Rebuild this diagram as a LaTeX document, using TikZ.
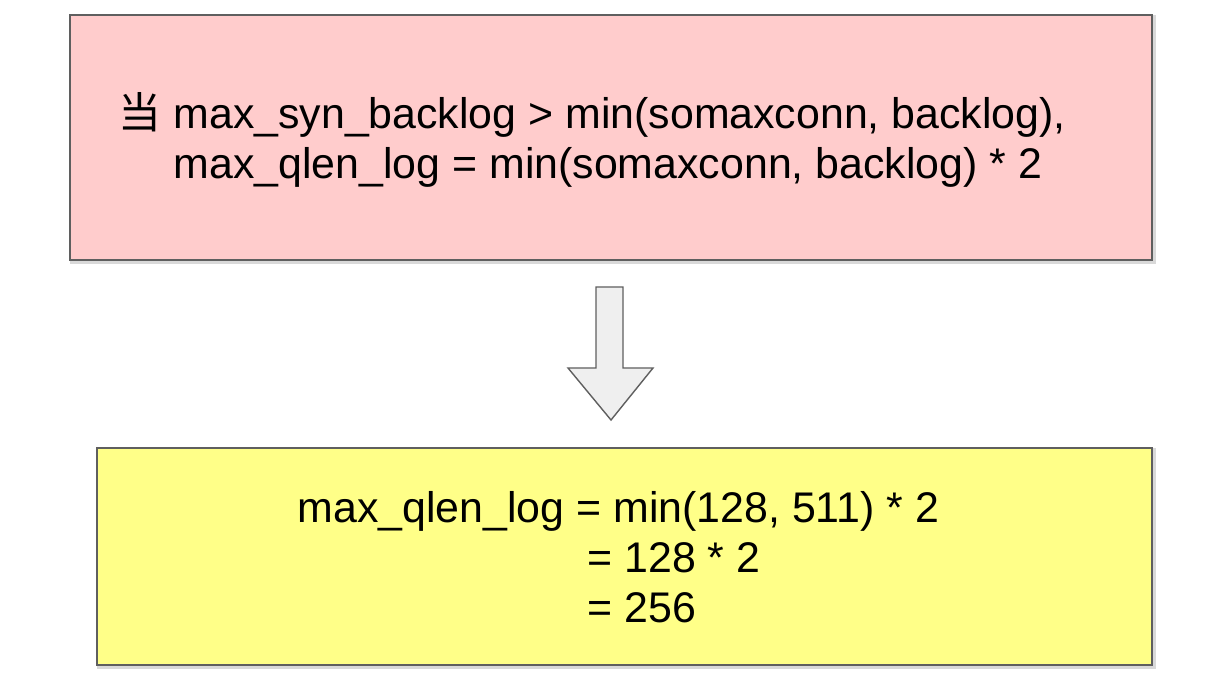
\documentclass[tikz,border=0pt]{standalone}
\usepackage{fontspec}
\setmainfont{Liberation Sans}
\newfontfamily\cjkfont{Noto Sans CJK SC}
\usetikzlibrary{positioning}

\begin{document}
\begin{tikzpicture}[x=0.02cm, y=-0.02cm, thick, every node/.style={font=\fontsize{24.4}{28.45}\selectfont, inner sep=0pt, align=left}]
      \definecolor{condbg}{HTML}{FFCCCC} \definecolor{resultbg}{HTML}{FFFF88}
      \definecolor{boxborder}{HTML}{5F5F5F} \definecolor{arrowbg}{HTML}{EFEFEF}
      \useasboundingbox (0, 0) rectangle (1216, 678);
      \draw[draw=black!15, line width=2pt] (72, 17) rectangle (1154, 262);
      \draw[fill=condbg, draw=boxborder] (70, 15) rectangle (1152, 260);
      \node[anchor=west] (cond) at (118, 140) {{\cjkfont 当} max\_syn\_backlog > min(somaxconn, backlog),\\
        \hspace*{1.1cm}max\_qlen\_log = min(somaxconn, backlog) * 2};
      \draw[fill=arrowbg, draw=boxborder] (596, 287) -- (623, 287) -- (623, 368) -- (653, 368)
        -- (611, 420) -- (568, 368) -- (596, 368) -- cycle;
      \draw[draw=black!15, line width=2pt] (99, 450) rectangle (1154, 667);
      \draw[fill=resultbg, draw=boxborder] (97, 448) rectangle (1152, 665);
      \node[anchor=west] (result) at (297, 557) {max\_qlen\_log = min(128, 511) * 2\\
        \hspace*{5.8cm}= 128 * 2\\
        \hspace*{5.8cm}= 256};
    \end{tikzpicture}
\end{document}
